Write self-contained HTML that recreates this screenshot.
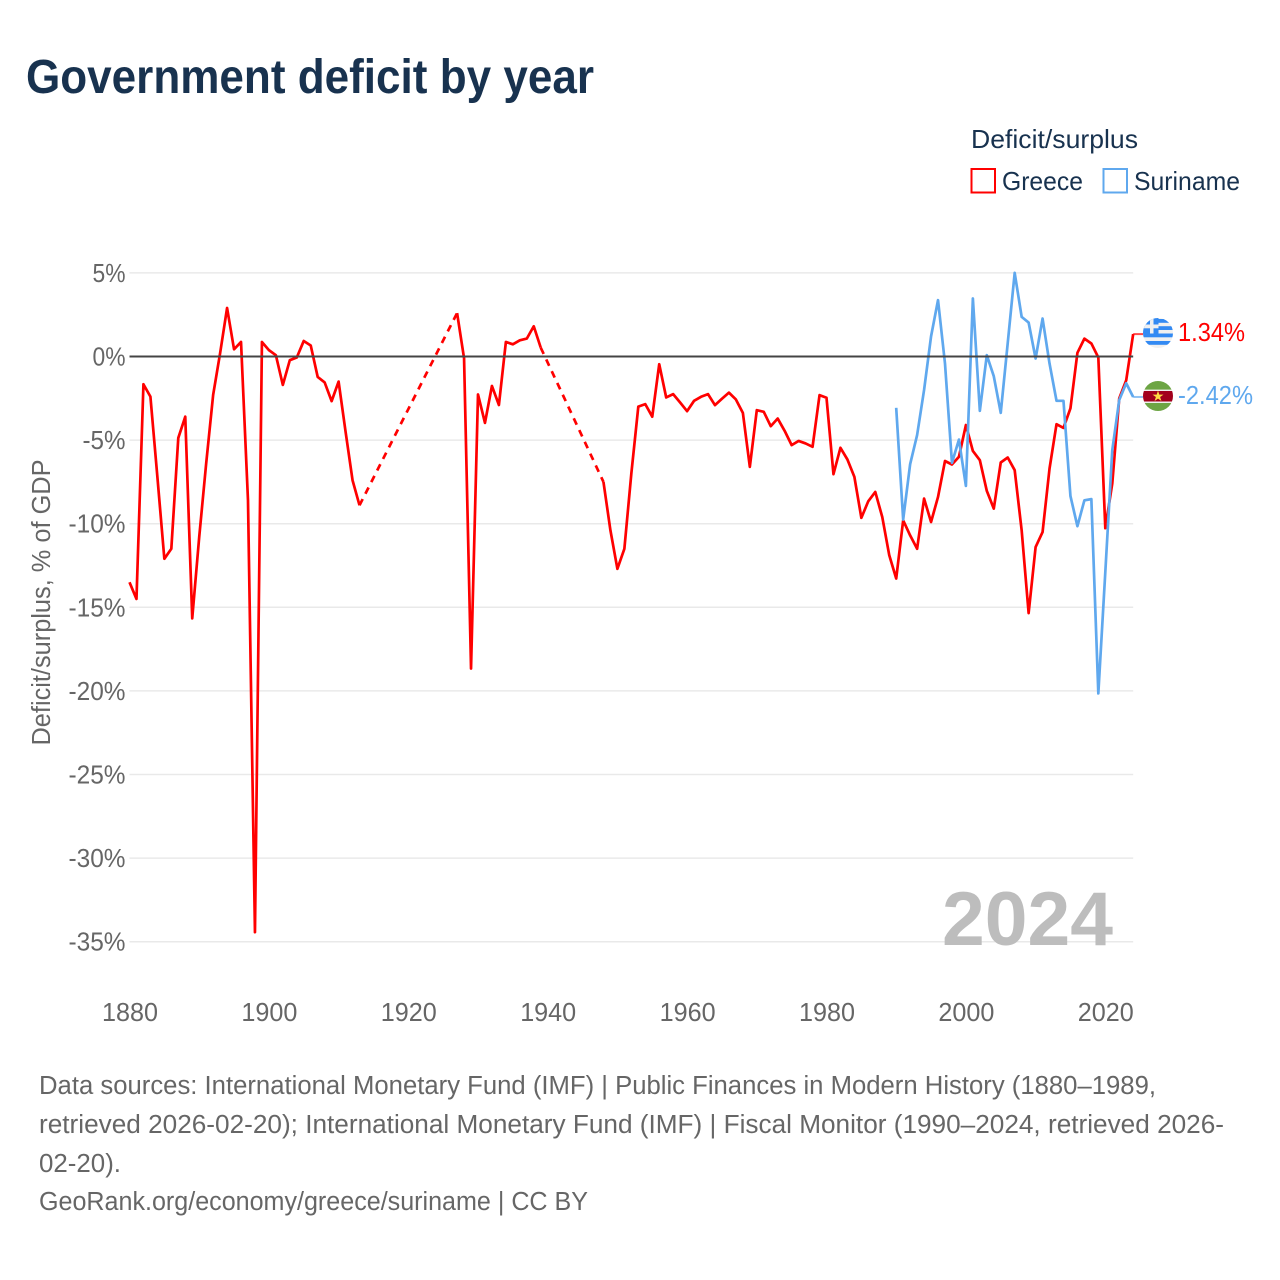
<!DOCTYPE html>
<html lang="en">
<head>
<meta charset="utf-8">
<title>Government deficit by year</title>
<style>
html,body{margin:0;padding:0;background:#fff;}
svg{display:block;font-family:"Liberation Sans",sans-serif;}
</style>
</head>
<body>
<svg id="chart" xmlns="http://www.w3.org/2000/svg" width="1280" height="1280" viewBox="0 0 1280 1280">
  <defs>
    <clipPath id="clip-gr"><circle cx="1158" cy="333" r="15"/></clipPath>
    <clipPath id="clip-sr"><circle cx="1158" cy="396" r="15"/></clipPath>
  </defs>
  <rect x="0" y="0" width="1280" height="1280" fill="#fff"/>
  <text x="26" y="93" font-size="48" font-weight="700" fill="#18324f" textLength="568" lengthAdjust="spacingAndGlyphs">Government deficit by year</text>

  <g>
    <text x="971" y="148" font-size="26" fill="#18324f" textLength="167" lengthAdjust="spacingAndGlyphs">Deficit/surplus</text>
    <g>
      <rect x="971.5" y="169" width="23.5" height="23.5" fill="none" stroke="#ff0000" stroke-width="2"/>
      <text x="1002" y="190" font-size="26" fill="#18324f" textLength="81" lengthAdjust="spacingAndGlyphs">Greece</text>
    </g>
    <g>
      <rect x="1103.5" y="169" width="23.5" height="23.5" fill="none" stroke="#5fa8ee" stroke-width="2"/>
      <text x="1134" y="190" font-size="26" fill="#18324f" textLength="106" lengthAdjust="spacingAndGlyphs">Suriname</text>
    </g>
  </g>

  <g id="grid"></g>
  <g id="yticks"></g>
  <g id="xticks"></g>
  <text transform="translate(50,602.5) rotate(-90)" text-anchor="middle" font-size="25.5" fill="#666" textLength="286" lengthAdjust="spacingAndGlyphs">Deficit/surplus, % of GDP</text>
  <text x="942" y="945" font-size="76" font-weight="700" fill="#bdbdbd" textLength="171" lengthAdjust="spacingAndGlyphs">2024</text>

  <g id="series"></g>
  <g id="zero"></g>

  <g clip-path="url(#clip-gr)">
    <rect x="1143" y="318" width="30" height="30" fill="#f0f0f0"/>
    <rect x="1143" y="319" width="30" height="3.8" fill="#338af3"/>
    <rect x="1143" y="326.2" width="30" height="3.8" fill="#338af3"/>
    <rect x="1143" y="333.5" width="30" height="3.8" fill="#338af3"/>
    <rect x="1143" y="341" width="30" height="3.8" fill="#338af3"/>
    <rect x="1143" y="318" width="15.5" height="15.5" fill="#338af3"/>
    <rect x="1150" y="318" width="3.5" height="15.5" fill="#f0f0f0"/>
    <rect x="1143" y="324.5" width="15.5" height="3.8" fill="#f0f0f0"/>
  </g>
  <g clip-path="url(#clip-sr)">
    <rect x="1143" y="381" width="30" height="30" fill="#f0f0f0"/>
    <rect x="1143" y="381" width="30" height="8.6" fill="#6da544"/>
    <rect x="1143" y="403" width="30" height="8.5" fill="#6da544"/>
    <rect x="1143" y="391" width="30" height="10.5" fill="#a2001d"/>
    <polygon points="1158,390.6 1159.3,394.6 1163.5,394.6 1160.1,397 1161.4,401 1158,398.6 1154.6,401 1155.9,397 1152.5,394.6 1156.7,394.6" fill="#ffda44"/>
  </g>
  <text x="1178" y="341" font-size="25.5" fill="#ff0000" textLength="67" lengthAdjust="spacingAndGlyphs">1.34%</text>
  <text x="1178" y="404" font-size="25.5" fill="#5fa8ee" textLength="75" lengthAdjust="spacingAndGlyphs">-2.42%</text>

  <g font-size="25.5" fill="#666">
    <text x="39" y="1094" textLength="1117" lengthAdjust="spacingAndGlyphs">Data sources: International Monetary Fund (IMF) | Public Finances in Modern History (1880–1989,</text>
    <text x="39" y="1133" textLength="1185" lengthAdjust="spacingAndGlyphs">retrieved 2026-02-20); International Monetary Fund (IMF) | Fiscal Monitor (1990–2024, retrieved 2026-</text>
    <text x="39" y="1172" textLength="82" lengthAdjust="spacingAndGlyphs">02-20).</text>
    <text x="39" y="1210" textLength="549" lengthAdjust="spacingAndGlyphs">GeoRank.org/economy/greece/suriname | CC BY</text>
  </g>
</svg>
<script>
const xTickYears = [1880, 1900, 1920, 1940, 1960, 1980, 2000, 2020];
const yTickValues = [5, 0, -5, -10, -15, -20, -25, -30, -35];
const greeceStartYear = 1880;
const greeceValues = [
  -13.5,-14.5,-1.66,-2.4,-7.2,-12.1,-11.5,-4.87,-3.6,-15.66,
  -10.8,-6.4,-2.3,0.2,2.9,0.43,0.87,-8.6,-34.43,0.87,
  0.38,0.08,-1.7,-0.22,-0.06,0.93,0.66,-1.22,-1.55,-2.67,
  -1.5,-4.5,-7.4,-8.9,
  null,null,null,null,null,null,null,null,null,null,null,null,null,
  2.6,-0.1,-18.66,-2.27,-3.97,-1.76,-2.9,0.87,0.73,0.97,1.07,1.81,0.53,
  null,null,null,null,null,null,null,null,
  -7.5,-10.4,-12.7,-11.5,-7,-3,-2.85,-3.6,-0.46,-2.45,-2.25,-2.75,
  -3.27,-2.65,-2.41,-2.25,-2.91,-2.53,-2.16,-2.57,-3.37,-6.6,
  -3.21,-3.31,-4.17,-3.71,-4.45,-5.3,-5.05,-5.2,-5.4,-2.31,
  -2.47,-7.04,-5.46,-6.16,-7.2,-9.65,-8.65,-8.1,-9.6,-11.88,
  -13.28,-9.8,-10.7,-11.5,-8.5,-9.9,-8.4,-6.25,-6.46,-6,
  -4.1,-5.65,-6.2,-8.04,-9.1,-6.34,-6.04,-6.8,-10.4,-15.35,
  -11.4,-10.5,-6.7,-4.05,-4.27,-3.1,0.22,1.07,0.78,-0.06,
  -10.27,-7.6,-2.5,-1.42,1.34
];
const surinameStartYear = 1990;
const surinameValues = [
  -3.07,-9.75,-6.44,-4.7,-2,1.2,3.37,-0.42,-6.36,-4.97,
  -7.74,3.47,-3.25,0.08,-1.18,-3.37,0.8,5,2.37,2.03,
  -0.12,2.27,-0.42,-2.65,-2.65,-8.35,-10.15,-8.6,-8.53,-20.15,
  -12.9,-5.6,-2.6,-1.6,-2.42
];

const SVG_NS = 'http://www.w3.org/2000/svg';
const xScale = year => 129.5 + (year - 1880) * 6.97;
const yScale = value => 356.5 - value * 16.72;
const labelWidth = s => {
  let w = 0;
  for (const c of s) { w += c === '%' ? 19 : c === '-' ? 10 : 14; }
  return w;
};

const gridGroup = document.getElementById('grid');
const yTickGroup = document.getElementById('yticks');
yTickValues.forEach(v => {
  const label = v + '%';
  if (v !== 0) {
    const line = document.createElementNS(SVG_NS, 'line');
    
    
    line.setAttribute('x1', xScale(1880));
    line.setAttribute('x2', xScale(2024));
    line.setAttribute('y1', yScale(v));
    line.setAttribute('y2', yScale(v));
    line.setAttribute('stroke', '#e9e9e9');
    line.setAttribute('stroke-width', '1.5');
    gridGroup.appendChild(line);
  }
  const t = document.createElementNS(SVG_NS, 'text');
  
  
  t.setAttribute('x', 125.5 - labelWidth(label));
  t.setAttribute('y', yScale(v) + 9);
  t.setAttribute('font-size', '25.5');
  t.setAttribute('fill', '#666');
  t.setAttribute('textLength', labelWidth(label));
  t.setAttribute('lengthAdjust', 'spacingAndGlyphs');
  t.textContent = label;
  yTickGroup.appendChild(t);
});

const xTickGroup = document.getElementById('xticks');
xTickYears.forEach(y => {
  const label = String(y);
  const t = document.createElementNS(SVG_NS, 'text');
  
  
  t.setAttribute('x', xScale(y) - labelWidth(label) / 2 + 0.5);
  t.setAttribute('y', '1021');
  t.setAttribute('font-size', '25.5');
  t.setAttribute('fill', '#666');
  t.setAttribute('textLength', labelWidth(label));
  t.setAttribute('lengthAdjust', 'spacingAndGlyphs');
  t.textContent = label;
  xTickGroup.appendChild(t);
});

const seriesGroup = document.getElementById('series');
function pathsFor(startYear, values) {
  let solid = '';
  let dashed = '';
  let prev = null;
  values.forEach((v, i) => {
    if (v === null) return;
    const year = startYear + i;
    const pt = xScale(year).toFixed(2) + ' ' + yScale(v).toFixed(2);
    if (prev === null) {
      solid += 'M' + pt;
    } else if (prev.year === year - 1) {
      solid += 'L' + pt;
    } else {
      dashed += 'M' + prev.pt + 'L' + pt;
      solid += 'M' + pt;
    }
    prev = { year: year, pt: pt };
  });
  return { solid: solid, dashed: dashed, last: prev };
}

const surinamePaths = pathsFor(surinameStartYear, surinameValues);
const greecePaths = pathsFor(greeceStartYear, greeceValues);

const greeceLine = document.createElementNS(SVG_NS, 'path');


greeceLine.setAttribute('d', greecePaths.solid);
greeceLine.setAttribute('fill', 'none');
greeceLine.setAttribute('stroke', '#ff0000');
greeceLine.setAttribute('stroke-width', '2.7');
greeceLine.setAttribute('stroke-linejoin', 'round');
seriesGroup.appendChild(greeceLine);

const greeceGap = document.createElementNS(SVG_NS, 'path');


greeceGap.setAttribute('d', greecePaths.dashed);
greeceGap.setAttribute('fill', 'none');
greeceGap.setAttribute('stroke', '#ff0000');
greeceGap.setAttribute('stroke-width', '2.7');
greeceGap.setAttribute('stroke-dasharray', '7 6');
seriesGroup.appendChild(greeceGap);

const surinameLine = document.createElementNS(SVG_NS, 'path');


surinameLine.setAttribute('d', surinamePaths.solid);
surinameLine.setAttribute('fill', 'none');
surinameLine.setAttribute('stroke', '#5fa8ee');
surinameLine.setAttribute('stroke-width', '2.7');
surinameLine.setAttribute('stroke-linejoin', 'round');
seriesGroup.appendChild(surinameLine);

const greeceConnector = document.createElementNS(SVG_NS, 'line');


greeceConnector.setAttribute('x1', xScale(2024));
greeceConnector.setAttribute('x2', '1143');
greeceConnector.setAttribute('y1', yScale(greeceValues[greeceValues.length - 1]));
greeceConnector.setAttribute('y2', yScale(greeceValues[greeceValues.length - 1]));
greeceConnector.setAttribute('stroke', '#ff0000');
greeceConnector.setAttribute('stroke-width', '2');
greeceConnector.setAttribute('stroke-opacity', '0.7');
seriesGroup.appendChild(greeceConnector);

const surinameConnector = document.createElementNS(SVG_NS, 'line');


surinameConnector.setAttribute('x1', xScale(2024));
surinameConnector.setAttribute('x2', '1143');
surinameConnector.setAttribute('y1', yScale(surinameValues[surinameValues.length - 1]));
surinameConnector.setAttribute('y2', yScale(surinameValues[surinameValues.length - 1]));
surinameConnector.setAttribute('stroke', '#5fa8ee');
surinameConnector.setAttribute('stroke-width', '2');
surinameConnector.setAttribute('stroke-opacity', '0.7');
seriesGroup.appendChild(surinameConnector);

const zeroLine = document.createElementNS(SVG_NS, 'line');


zeroLine.setAttribute('x1', xScale(1880));
zeroLine.setAttribute('x2', xScale(2024));
zeroLine.setAttribute('y1', yScale(0));
zeroLine.setAttribute('y2', yScale(0));
zeroLine.setAttribute('stroke', '#444');
zeroLine.setAttribute('stroke-width', '2');
document.getElementById('zero').appendChild(zeroLine);
</script>
</body>
</html>
